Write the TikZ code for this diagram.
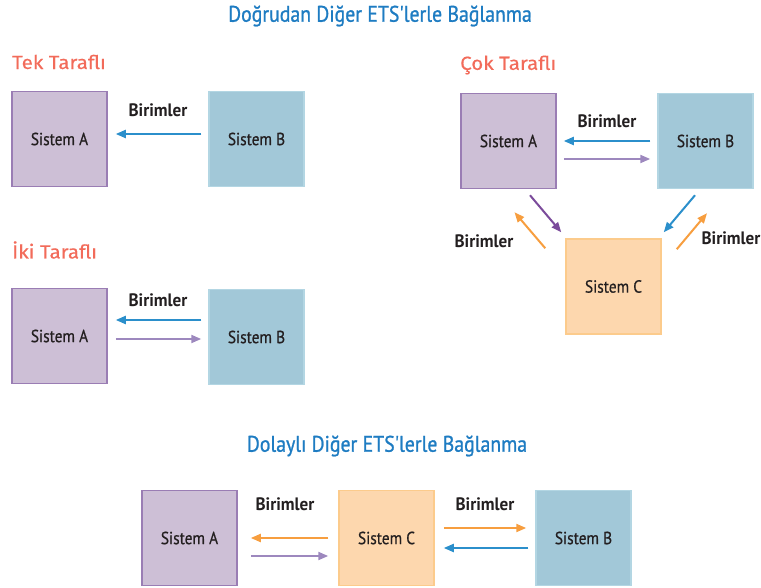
\documentclass[tikz,border=0pt]{standalone}
\usepackage{fontspec}
\setmainfont{PT Sans}[FakeStretch=0.88,FakeBold=0.6,Ligatures=TeXOff]
\newfontfamily\lblf{PT Sans}[FakeStretch=0.95]
\newfontfamily\titf{PT Sans}[FakeStretch=0.88,FakeBold=1,Ligatures=TeXOff]
\newfontfamily\redf{Fira Sans}[FakeStretch=1.08,FakeBold=0.4]
\usetikzlibrary{arrows.meta,calc}
\definecolor{purfill}{HTML}{CDBFD6}
\definecolor{purline}{HTML}{9A7DB4}
\definecolor{blufill}{HTML}{A2C8D8}
\definecolor{bluline}{HTML}{B3D6E3}
\definecolor{orafill}{HTML}{FDD7AE}
\definecolor{oraline}{HTML}{FCCB8C}
\definecolor{titleblue}{HTML}{1E7CC2}
\definecolor{titlered}{HTML}{F26B5A}
\definecolor{arrblue}{HTML}{2B8FCB}
\definecolor{arrpur}{HTML}{9D88BE}
\definecolor{arrdpur}{HTML}{7B4B9B}
\definecolor{arrora}{HTML}{F79E3F}
\definecolor{txt}{HTML}{231F20}
\tikzset{
  sysbox/.style={minimum width=95pt,minimum height=95pt,inner sep=0pt,line width=1.5pt,
    font=\fontsize{17.5}{20}\selectfont,text=txt},
  sysa/.style={sysbox,fill=purfill,draw=purline},
  sysb/.style={sysbox,fill=blufill,draw=bluline},
  sysc/.style={sysbox,fill=orafill,draw=oraline},
  arr/.style={line width=2pt,-{Triangle[length=10pt,width=8pt]}},
  barr/.style={arr,arrblue},
  parr/.style={arr,arrpur},
  dparr/.style={arr,arrdpur},
  oarr/.style={arr,arrora},
  lbl/.style={font=\lblf\bfseries\fontsize{18}{20}\selectfont,text=txt,inner sep=0pt},
  maintitle/.style={font=\titf\fontsize{22.5}{24}\selectfont,text=titleblue,inner sep=0pt},
  subtitle/.style={font=\redf\fontsize{19}{22}\selectfont,text=titlered,inner sep=0pt,anchor=west},
}
\begin{document}
\begin{tikzpicture}[x=1pt,y=-1pt]
\useasboundingbox (0,0) rectangle (761,588);
% titles
\node[maintitle] (t1) at (380,16) {Doğrudan Diğer ETS'lerle Bağlanma};
\node[maintitle] (t2) at (387,446) {Dolaylı Diğer ETS'lerle Bağlanma};
\node[subtitle] (s1) at (12,62) {Tek Taraflı};
\node[subtitle] (s2) at (12,250) {İki Taraflı};
\node[subtitle] (s3) at (460,65) {Çok Taraflı};
% Tek Tarafli
\node[sysa] (aT) at (59.5,139) {Sistem A};
\node[sysb] (bT) at (256.5,139) {Sistem B};
\draw[barr] ([xshift=-7pt,yshift=5pt]bT.west) -- ([xshift=8pt,yshift=5pt]aT.east);
\node[lbl] (lT) at (158,110) {Birimler};
% Iki Tarafli
\node[sysa] (aI) at (59.5,336) {Sistem A};
\node[sysb] (bI) at (256.5,337) {Sistem B};
\draw[barr] ($(bI.west)+(-7,-17)$) -- ($(aI.east)+(8,-16)$);
\draw[parr] ($(aI.east)+(8,3)$) -- ($(bI.west)+(-7,2)$);
\node[lbl] (lI) at (158,300) {Birimler};
% Cok Tarafli
\node[sysa] (aC) at (508.5,141) {Sistem A};
\node[sysb] (bC) at (705.5,141) {Sistem B};
\node[sysc] (cC) at (613.5,286.5) {Sistem C};
\draw[barr] ($(bC.west)+(-7,0)$) -- ($(aC.east)+(7,0)$);
\draw[parr] ($(aC.east)+(7,18)$) -- ($(bC.west)+(-7,18)$);
\draw[dparr] ($(aC.south)+(21.5,6)$) -- ($(cC.north west)+(-4,-6)$);
\draw[oarr] ($(cC.north west)+(-20,10)$) -- ($(aC.south)+(6,23)$);
\draw[barr] ($(bC.south)+(-10.5,6)$) -- ($(cC.north east)+(2,-6)$);
\draw[oarr] ($(cC.north east)+(15,11)$) -- ($(bC.south)+(1.5,24)$);
\node[lbl] (lC1) at (607,121) {Birimler};
\node[lbl] (lC2) at (484,241) {Birimler};
\node[lbl] (lC3) at (731,238) {Birimler};
% Dolayli
\node[sysa] (aD) at (189.5,538) {Sistem A};
\node[sysc] (cD) at (386.5,538) {Sistem C};
\node[sysb] (bD) at (583.5,538) {Sistem B};
\draw[oarr] ($(cD.west)+(-10,0)$) -- ($(aD.east)+(13,0)$);
\draw[parr] ($(aD.east)+(13,18)$) -- ($(cD.west)+(-10,18)$);
\draw[oarr] ($(cD.east)+(9,-10)$) -- ($(bD.west)+(-9,-10)$);
\draw[barr] ($(bD.west)+(-7,10)$) -- ($(cD.east)+(9,10)$);
\node[lbl] (lD1) at (285,504) {Birimler};
\node[lbl] (lD2) at (485,504) {Birimler};
\end{tikzpicture}
\end{document}
